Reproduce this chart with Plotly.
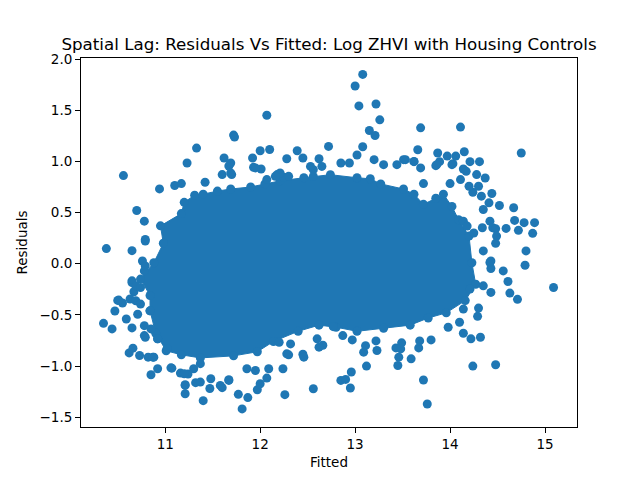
import plotly.graph_objects as go

# outline of the dense core (fitted, residual)
core_fitted = [10.84, 10.84, 10.74, 10.88, 10.98, 10.95, 11.17, 11.20, 11.31, 11.40,
               11.55, 11.69, 11.90, 12.05, 12.21, 12.46, 12.74, 13.02, 13.16, 13.27,
               13.51, 13.62, 13.72, 13.85, 13.93, 14.02, 14.09, 14.20, 14.23, 14.27,
               14.16, 13.96, 13.77, 13.58, 13.30, 13.02, 12.80, 12.62, 12.40, 12.14,
               11.97, 11.72, 11.37, 11.17, 11.01, 10.90]
core_resid = [-0.46, -0.31, -0.15, 0.01, 0.20, 0.37, 0.49, 0.60, 0.67, 0.68,
              0.71, 0.73, 0.75, 0.78, 0.81, 0.84, 0.87, 0.84, 0.83, 0.78,
              0.73, 0.68, 0.58, 0.64, 0.68, 0.56, 0.43, 0.27, 0.01, -0.20,
              -0.36, -0.48, -0.53, -0.60, -0.63, -0.66, -0.62, -0.60, -0.66, -0.76,
              -0.86, -0.90, -0.92, -0.89, -0.85, -0.68]

# scattered points around the core
fitted = [10.56, 12.07, 11.72, 11.73, 11.33, 11.23, 11.62, 11.67, 11.92, 12.00,
          12.10, 12.28, 12.39, 12.45, 10.94, 10.70, 10.78, 11.10, 11.17, 11.42,
          11.60, 11.70, 11.93, 12.01, 12.18, 12.25, 12.56, 12.62, 12.72, 12.65,
          13.08, 13.00, 13.04, 13.22, 13.26, 13.15, 13.21, 13.69, 14.11, 14.75,
          13.08, 13.02, 13.66, 13.87, 13.97, 14.06, 14.15, 14.03, 14.21, 14.31,
          13.20, 13.30, 13.53, 13.62, 13.72, 13.85, 13.89, 14.14, 14.17, 14.28,
          14.37, 14.44, 14.52, 14.67, 14.68, 14.78, 14.89, 14.72, 14.87, 14.42,
          14.45, 14.35, 14.24, 14.30, 14.33, 14.25, 14.34,
          10.38, 10.65, 10.79, 10.35, 10.44, 10.47, 10.50, 10.55, 10.59, 10.65,
          10.62, 10.66, 10.73, 10.82, 10.88, 10.85, 10.92, 11.07, 11.16, 11.24,
          11.21, 11.21, 11.32, 11.37, 11.40, 11.47, 11.60, 11.67, 11.77, 11.81,
          11.87, 11.97, 12.00, 12.07, 12.09, 12.26, 12.24, 12.56, 12.30, 12.45,
          12.66, 12.62, 10.71, 10.92, 11.02, 10.65, 10.67,
          15.09, 14.80, 14.79, 14.56, 14.61, 14.63, 14.71, 14.43, 14.42, 14.43,
          14.29, 14.30, 14.32, 14.22, 14.14, 14.10, 13.98, 14.24, 14.48, 13.80,
          13.67, 13.68, 13.59, 13.45, 13.46, 13.48, 13.49, 13.43, 13.72, 13.76,
          13.12, 13.23, 13.22, 13.09, 13.11, 12.96, 12.85, 12.90, 12.95, 12.97,
          12.87, 12.60, 12.77, 10.92, 10.87, 11.06, 11.20, 11.21, 11.48, 11.58,
          11.67, 12.28, 12.46, 11.86, 11.95, 11.30, 11.37, 11.95, 12.85, 12.94,
          13.44, 13.51, 13.62, 13.69, 13.86, 14.02, 14.11, 14.14, 14.18, 12.21,
          12.30, 12.07, 12.16, 12.53, 12.56, 11.69, 11.69, 12.20, 12.32, 10.63,
          10.69, 10.74, 10.78, 10.85, 10.78, 10.65, 10.69, 10.74, 10.76, 10.78,
          14.14, 14.21,
          10.79, 10.79, 10.51, 10.79, 14.59, 14.48, 14.49, 14.48, 14.43, 14.35,
          14.35, 14.20, 14.00, 14.41]
resid = [0.861, 1.451, 1.257, 1.237, 1.130, 0.984, 1.033, 0.955, 1.033, 1.104,
         1.116, 1.026, 1.104, 1.033, 0.731, 0.520, 0.416, 0.764, 0.783, 0.796,
         0.871, 0.871, 0.942, 0.926, 0.871, 0.844, 0.919, 1.026, 1.146, 0.951,
         1.850, 1.736, 1.542, 1.561, 1.406, 1.302, 1.253, 1.328, 1.335, 1.082,
         1.143, 1.062, 1.114, 1.082, 1.052, 1.052, 1.094, 0.978, 0.997, 0.997,
         1.017, 0.968, 1.017, 0.997, 0.783, 0.958, 0.997, 0.926, 0.903, 0.871,
         0.838, 0.686, 0.569, 0.547, 0.423, 0.401, 0.401, 0.326, 0.297, 0.416,
         0.352, 0.530, 0.698, 0.757, 0.660, 0.300, 0.352,
         0.148, 0.128, 0.222, -0.582, -0.637, -0.462, -0.358, -0.384, -0.540, -0.627,
         -0.871, -0.825, -0.897, -0.913, -0.913, -1.085, -1.026, -1.020, -1.068, -1.078,
         -1.182, -1.270, -1.162, -1.156, -1.338, -1.219, -1.211, -1.140, -1.276, -1.418,
         -1.308, -1.231, -1.172, -1.117, -1.026, -1.279, -1.026, -1.221, -0.890, -0.884,
         -0.796, -0.815, -0.494, -0.734, -0.832, -0.167, -0.274,
         -0.232, 0.125, -0.015, -0.070, -0.173, -0.287, -0.348, -0.047, 0.012, -0.280,
         -0.514, -0.433, -0.718, -0.734, -0.679, -0.572, -0.621, -1.000, -0.987, -0.744,
         -0.822, -0.754, -0.929, -0.994, -0.913, -0.832, -0.773, -0.822, -1.136, -1.370,
         -1.000, -0.848, -0.754, -0.864, -0.800, -1.058, -1.140, -1.130, -1.214, -0.744,
         -0.702, -0.734, -0.615, -0.734, -0.913, -1.017, -1.075, -1.189, -1.124, -1.189,
         -1.133, -0.880, -0.913, -1.026, -1.043, -1.026, -0.976, 0.936, 0.984, 0.984,
         0.968, 1.017, 1.000, 0.936, 0.968, 0.968, 0.822, 0.416, 0.368, 0.887,
         0.854, 0.822, 0.854, 0.951, 0.854, 0.984, 0.887, -0.767, -0.783, -0.345,
         -0.362, -0.394, -0.605, -0.637, -0.702, -0.183, -0.216, -0.232, 0.027, -0.070,
         -0.443, -0.248,
         0.238, -0.021, -0.355, -0.718, 0.345, 0.342, 0.270, 0.199, 0.027, 0.125,
         -0.216, 0.757, 0.783, 0.595]

blue = "#1f77b4"

fig = go.Figure()
fig.add_trace(go.Scatter(
    x=core_fitted + core_fitted[:1], y=core_resid + core_resid[:1],
    mode="lines+markers", fill="toself", fillcolor=blue,
    line=dict(color=blue, width=1),
    marker=dict(color=blue, size=9, line=dict(width=0)),
    hoverinfo="skip"
))
fig.add_trace(go.Scatter(
    x=fitted, y=resid, mode="markers",
    marker=dict(color=blue, size=9, line=dict(width=0))
))

axis_style = dict(
    showgrid=False, zeroline=False, showline=True, linecolor="black", linewidth=1,
    mirror=True, ticks="outside", ticklen=5, tickcolor="black",
    tickfont=dict(family="DejaVu Sans", size=13.5, color="black"),
)

# the page puts the figure 8px in from the top-left corner
fig.update_layout(
    width=632, height=472,
    margin=dict(l=73, r=63, t=50, b=53),
    plot_bgcolor="white", paper_bgcolor="white",
    showlegend=False,
    font=dict(family="DejaVu Sans", color="black"),
    title=dict(text="Spatial Lag: Residuals Vs Fitted: Log ZHVI with Housing Controls",
               x=0.5, xref="paper", xanchor="center",
               y=1 - 36 / 472, yref="container", yanchor="middle",
               font=dict(size=16.7, color="black")),
    xaxis=dict(range=[10.113, 15.337], tickvals=[11, 12, 13, 14, 15],
               title=dict(text="Fitted", font=dict(size=13.5), standoff=6),
               **axis_style),
    yaxis=dict(range=[-1.595, 2.01], tickvals=[-1.5, -1.0, -0.5, 0, 0.5, 1.0, 1.5, 2.0],
               tickformat=".1f",
               title=dict(text="Residuals", font=dict(size=13.5), standoff=8),
               **axis_style),
)

fig.write_html("out.html")
